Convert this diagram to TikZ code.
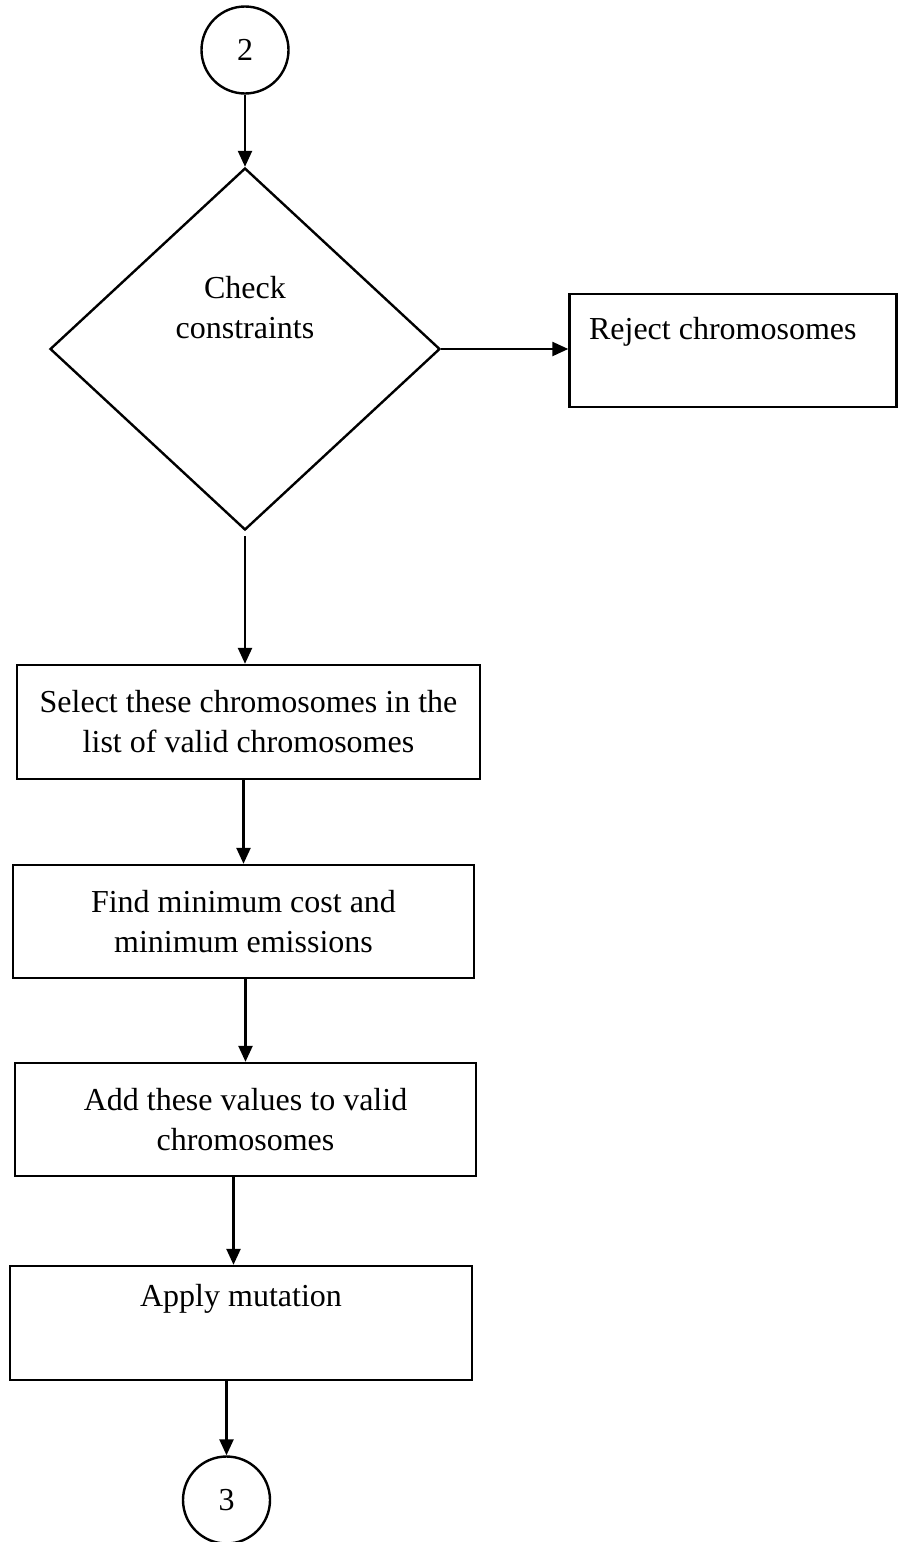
\documentclass[tikz,border=0pt]{standalone}
\usepackage{fontspec}
\setmainfont{Liberation Serif}
\usetikzlibrary{shapes.geometric,arrows.meta}

\begin{document}
\begin{tikzpicture}[x=0.5pt,y=-0.5pt,
    every node/.style={font=\fontsize{16pt}{20pt}\selectfont},
    box/.style={draw,line width=1.2pt,minimum height=57pt,align=center},
    conn/.style={draw,line width=1.2pt,circle,minimum size=43.5pt,inner sep=0pt},
    arr/.style={line width=1.2pt,-{Triangle[length=8pt,width=7pt]}}]
  \useasboundingbox (0,0) rectangle (898,1542);
  % connectors in and out
  \node[conn] (c2) at (245,50) {2};
  \node[conn] (c3) at (226.5,1500) {3};
  % decision
  \node[draw,line width=1.2pt,diamond,minimum width=195pt,minimum height=181pt,inner sep=0pt] (dia) at (245,349) {};
  \node[align=center] (dialbl) at (245,308) {Check\\constraints};
  \node[box,minimum width=163.5pt,minimum height=56.5pt] (rej) at (733,350.5) {};
  \node[anchor=west] (rejlbl) at (582,332) {Reject chromosomes};
  % process boxes
  \node[box,minimum width=231.5pt] (sel) at (248.5,722) {Select these chromosomes in the\\list of valid chromosomes};
  \node[box,minimum width=230.5pt,minimum height=56.5pt] (fnd) at (243.5,921.5) {Find minimum cost and\\minimum emissions};
  \node[box,minimum width=230.5pt,minimum height=56.5pt] (add) at (245.5,1119.5) {Add these values to valid\\chromosomes};
  \node[box,minimum width=231pt] (mut) at (241,1323) {};
  \node (mutlbl) at (241,1299) {Apply mutation};
  % arrows
  \draw[arr] (c2) -- (dia.north);
  \draw[arr] (dia.east) -- (dia.east -| rej.west);
  \draw[arr] ([yshift=-2.5pt]dia.south) -- (dia.south |- sel.north);
  \draw[arr] (fnd.north |- sel.south) -- (fnd.north);
  \draw[arr] (add.north |- fnd.south) -- (add.north);
  \draw[arr] ([xshift=-6pt]add.south) -- ([xshift=-6pt]add.south |- mut.north);
  \draw[arr] (c3.north |- mut.south) -- (c3.north);
\end{tikzpicture}
\end{document}
